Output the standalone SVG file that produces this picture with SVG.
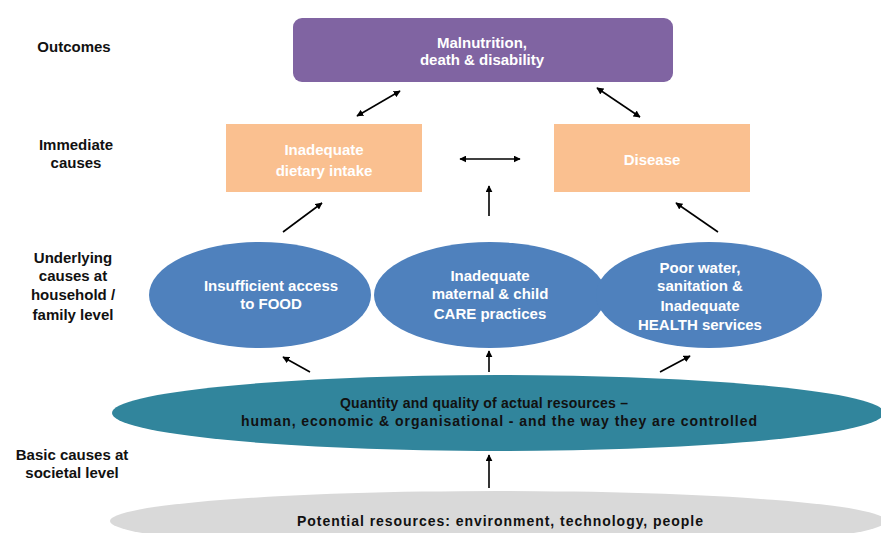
<svg xmlns="http://www.w3.org/2000/svg" width="881" height="533" viewBox="0 0 881 533">
<defs>
<marker id="ah" viewBox="0 0 10 10" refX="9" refY="5" markerWidth="7" markerHeight="7" orient="auto-start-reverse" markerUnits="userSpaceOnUse">
<path d="M0,0 L10,5 L0,10 z" fill="#000"/>
</marker>
<style>
text{font-family:"Liberation Sans",Arial,sans-serif;font-weight:bold;text-anchor:middle}
.lbl{font-size:15px;fill:#111}
.w{font-size:15px;fill:#fff}
.k{font-size:14px;fill:#111}
.c line{stroke:#000;stroke-width:1.6;fill:none}
</style>
</defs>
<rect width="881" height="533" fill="#fff"/>

<g id="labels">
<text class="lbl" x="74" y="52">Outcomes</text>
<text class="lbl" x="76" y="150">Immediate</text>
<text class="lbl" x="76" y="168">causes</text>
<text class="lbl" x="73" y="263">Underlying</text>
<text class="lbl" x="73" y="281">causes at</text>
<text class="lbl" x="73" y="300">household /</text>
<text class="lbl" x="73" y="320">family level</text>
<text class="lbl" x="72" y="460">Basic causes at</text>
<text class="lbl" x="72" y="478">societal level</text>
</g>

<g id="potential">
<ellipse cx="498" cy="521" rx="388" ry="30" fill="#D9D9D9"/>
<text class="k" x="500" y="526" textLength="406" lengthAdjust="spacing">Potential resources:  environment, technology,  people</text>
</g>

<g id="actual">
<ellipse cx="498" cy="413" rx="386" ry="38" fill="#31859C"/>
<text class="k" x="484" y="408" textLength="288" lengthAdjust="spacing">Quantity and quality of actual resources  –</text>
<text class="k" x="499" y="426" textLength="516" lengthAdjust="spacing">human, economic &amp; organisational  - and the way  they are controlled</text>
</g>

<g id="food">
<ellipse cx="260" cy="295" rx="111" ry="53" fill="#4F81BD"/>
<text class="w" x="271" y="291">Insufficient access</text>
<text class="w" x="271" y="309">to FOOD</text>
</g>
<g id="care">
<ellipse cx="490" cy="295" rx="116" ry="53" fill="#4F81BD"/>
<text class="w" x="490" y="281">Inadequate</text>
<text class="w" x="490" y="299">maternal  &amp; child</text>
<text class="w" x="490" y="319">CARE practices</text>
</g>
<g id="health">
<ellipse cx="709" cy="295" rx="113" ry="53" fill="#4F81BD"/>
<text class="w" x="700" y="273">Poor water,</text>
<text class="w" x="700" y="291">sanitation &amp;</text>
<text class="w" x="700" y="311">Inadequate</text>
<text class="w" x="700" y="330">HEALTH services</text>
</g>

<g id="intake">
<rect x="226" y="124" width="196" height="68" fill="#FAC090"/>
<text class="w" x="324" y="155">Inadequate</text>
<text class="w" x="324" y="176">dietary intake</text>
</g>
<g id="disease">
<rect x="554" y="124" width="196" height="68" fill="#FAC090"/>
<text class="w" x="652" y="165">Disease</text>
</g>

<g id="outcome">
<rect x="293" y="18" width="380" height="64" rx="9" fill="#8064A2"/>
<text class="w" x="482" y="48">Malnutrition,</text>
<text class="w" x="482" y="65">death &amp; disability</text>
</g>

<g id="connectors" class="c">
<line x1="357" y1="116" x2="400" y2="91" marker-start="url(#ah)" marker-end="url(#ah)"/>
<line x1="597" y1="88" x2="640" y2="117" marker-start="url(#ah)" marker-end="url(#ah)"/>
<line x1="460" y1="159" x2="520" y2="159" marker-start="url(#ah)" marker-end="url(#ah)"/>
<line x1="489" y1="216" x2="489" y2="186" marker-end="url(#ah)"/>
<line x1="283" y1="232" x2="322" y2="203" marker-end="url(#ah)"/>
<line x1="718" y1="232" x2="676" y2="203" marker-end="url(#ah)"/>
<line x1="310" y1="372" x2="283" y2="357" marker-end="url(#ah)"/>
<line x1="489" y1="372" x2="489" y2="351" marker-end="url(#ah)"/>
<line x1="660" y1="372" x2="690" y2="356" marker-end="url(#ah)"/>
<line x1="489" y1="488" x2="489" y2="455" marker-end="url(#ah)"/>
</g>
</svg>
